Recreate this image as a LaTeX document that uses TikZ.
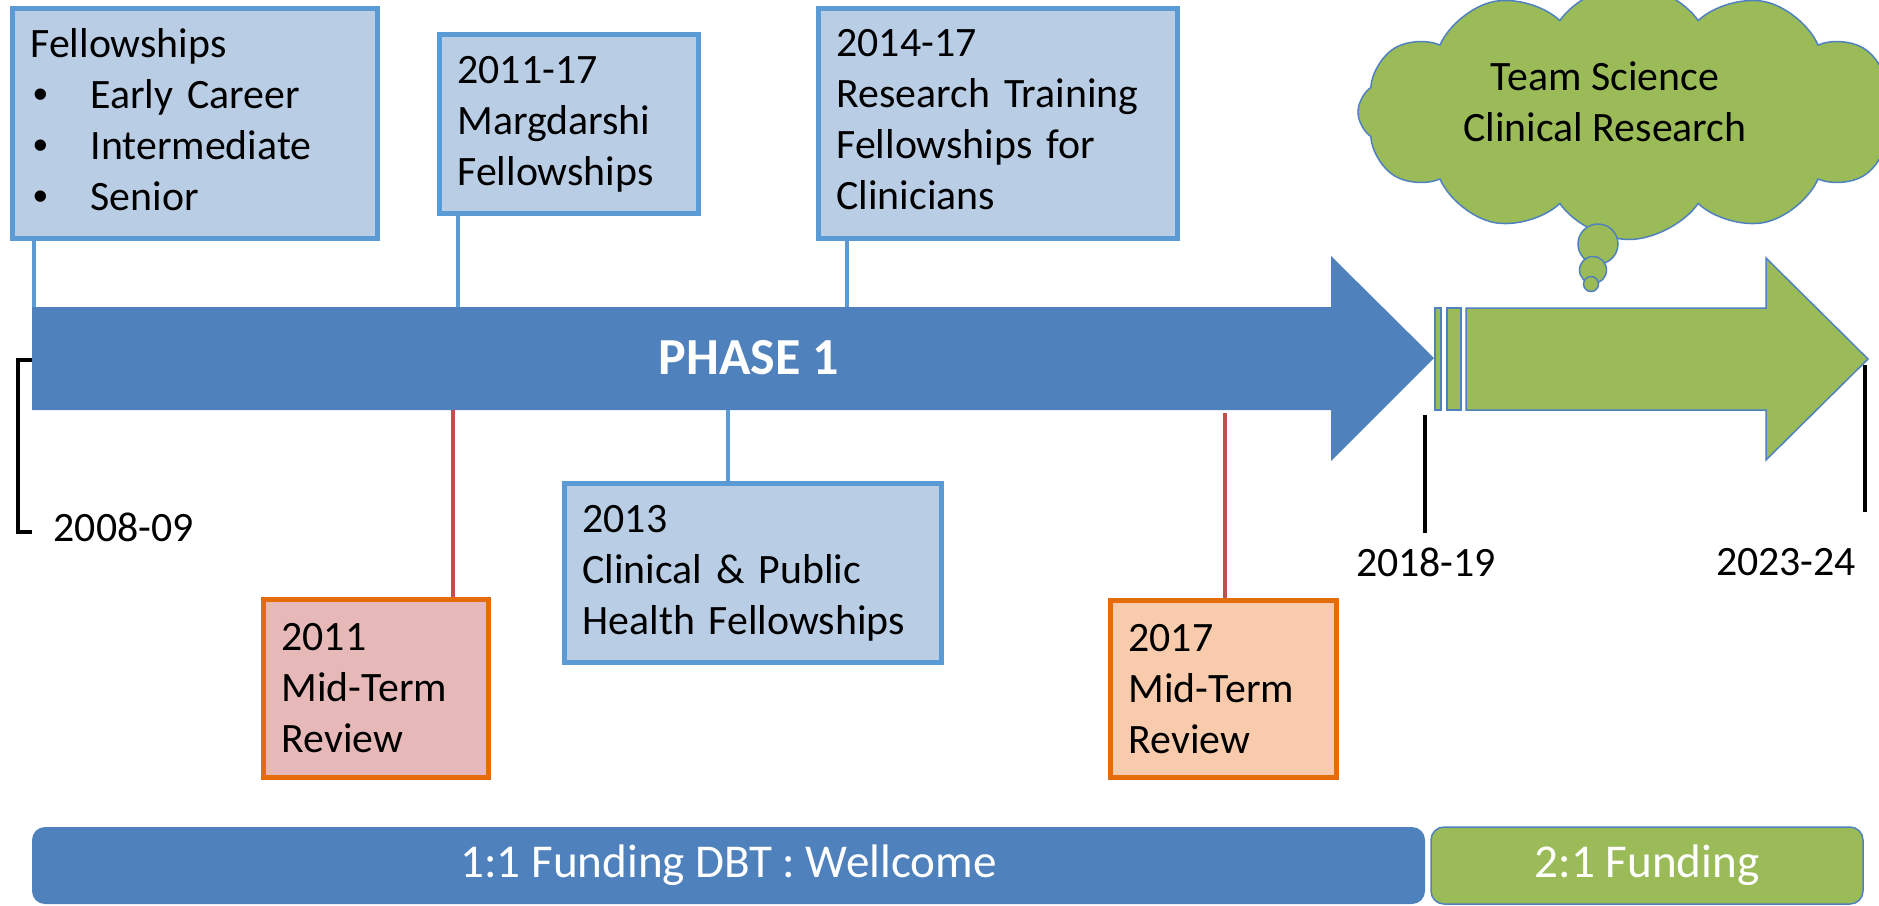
\documentclass[tikz,border=0pt]{standalone}
\usepackage{fontspec}
\setmainfont{Carlito}
\newfontfamily\bulletfont{Liberation Sans}
\usepackage{xcolor}
\usepackage{tikz}
\usetikzlibrary{shapes.symbols}
\definecolor{phaseblue}{HTML}{4F81BD}
\definecolor{boxblue}{HTML}{B9CDE5}
\definecolor{lineblue}{HTML}{5B9BD5}
\definecolor{stemred}{HTML}{C0504D}
\definecolor{revorange}{HTML}{E46C0A}
\definecolor{revpink}{HTML}{E6B9B8}
\definecolor{revpeach}{HTML}{F8CBAD}
\definecolor{leafgreen}{HTML}{9BBB59}
\newcommand{\fellbullet}{\makebox[0.60cm][l]{\hspace{0.03cm}{\bulletfont\textbullet}}}

\begin{document}
\begin{tikzpicture}[
  every node/.style={font=\fontsize{11.9}{14.5}\selectfont},
  infobox/.style={draw=lineblue, fill=boxblue, line width=0.05cm, anchor=north west,
    align=left, inner xsep=0.18cm, inner ysep=0cm},
  reviewbox/.style={infobox, draw=revorange},
  bluestem/.style={lineblue, line width=0.035cm},
  redstem/.style={stemred, line width=0.04cm},
  datetick/.style={black, line width=0.045cm},
  datelabel/.style={inner sep=0cm},
  greenshape/.style={fill=leafgreen, draw=phaseblue, line width=0.015cm},
  fundbar/.style={rounded corners=0.13cm, text=white, inner sep=0cm,
    font=\fontsize{13.4}{16}\selectfont}
]
\fill[white] (0cm,0cm) rectangle (18.79cm,-9.05cm);
\useasboundingbox (0cm,0cm) rectangle (18.79cm,-9.05cm);

% phase 1 arrow
\fill[phaseblue] (0.32cm,-3.07cm) -- (13.31cm,-3.07cm) -- (13.31cm,-2.56cm) -- (14.34cm,-3.58cm)
  -- (13.31cm,-4.61cm) -- (13.31cm,-4.10cm) -- (0.32cm,-4.10cm) -- cycle;
\node[text=white, font=\fontsize{14.8}{17}\selectfont\bfseries] (phase) at (7.49cm,-3.58cm) {PHASE 1};

% next phase arrow
\filldraw[greenshape] (14.35cm,-3.08cm) rectangle (14.41cm,-4.10cm);
\filldraw[greenshape] (14.47cm,-3.08cm) rectangle (14.61cm,-4.10cm);
\filldraw[greenshape] (14.66cm,-3.08cm) -- (17.66cm,-3.08cm) -- (17.66cm,-2.58cm) -- (18.68cm,-3.59cm)
  -- (17.66cm,-4.60cm) -- (17.66cm,-4.10cm) -- (14.66cm,-4.10cm) -- cycle;

% boxes above
\node[infobox, text width=3.29cm, minimum width=3.65cm, minimum height=2.30cm] (fell) at (0.10cm,-0.06cm)
  {Fellowships\\ \fellbullet Early Career\\ \fellbullet Intermediate\\ \fellbullet Senior\vspace{0.07cm}};
\node[infobox, text width=2.23cm, minimum width=2.59cm, minimum height=1.79cm] (marg) at (4.37cm,-0.32cm)
  {2011-17\\ Margdarshi\\ Fellowships};
\node[infobox, text width=3.23cm, minimum width=3.59cm, minimum height=2.30cm] (rtf) at (8.16cm,-0.06cm)
  {2014-17\\ Research Training\\ Fellowships for\\ Clinicians\vspace{0.07cm}};

% boxes below
\node[reviewbox, fill=revpink, text width=1.89cm, minimum width=2.25cm, minimum height=1.78cm] (rev1) at (2.61cm,-5.97cm)
  {2011\\ Mid-Term\\ Review};
\node[infobox, text width=3.41cm, minimum width=3.77cm, minimum height=1.79cm] (chp) at (5.62cm,-4.81cm)
  {2013\\ Clinical \& Public\\ Health Fellowships};
\node[reviewbox, fill=revpeach, text width=1.90cm, minimum width=2.26cm, minimum height=1.77cm] (rev2) at (11.08cm,-5.98cm)
  {2017\\ Mid-Term\\ Review};

% stems
\coordinate (s1) at (0.34cm,-3.07cm);
\coordinate (s2) at (4.58cm,-3.07cm);
\coordinate (s3) at (8.47cm,-3.07cm);
\coordinate (s4) at (4.53cm,-4.10cm);
\coordinate (s5) at (7.28cm,-4.10cm);
\coordinate (s6) at (12.25cm,-4.13cm);
\draw[bluestem] (s1) -- (s1 |- fell.south);
\draw[bluestem] (s2) -- (s2 |- marg.south);
\draw[bluestem] (s3) -- (s3 |- rtf.south);
\draw[redstem] (s4) -- (s4 |- rev1.north);
\draw[bluestem] (s5) -- (s5 |- chp.north);
\draw[redstem] (s6) -- (s6 |- rev2.north);

% dates
\node[datelabel, anchor=west] (d1) at (0.53cm,-5.27cm) {2008-09};
\node[datelabel] (d2) at (14.26cm,-5.62cm) {2018-19};
\node[datelabel] (d3) at (17.86cm,-5.62cm) {2023-24};
\coordinate (b1) at (0.32cm,-3.60cm);
\draw[datetick] (b1) -- ++(-0.14cm,0cm) |- ([xshift=-0.21cm,yshift=-0.05cm]d1.west);
\coordinate (t1) at (14.25cm,-4.15cm);
\coordinate (t2) at (14.25cm,-5.33cm);
\coordinate (t3) at (18.65cm,-3.65cm);
\coordinate (t4) at (18.65cm,-5.12cm);
\draw[datetick] (t1) -- (t2);
\draw[datetick] (t3) -- (t4);

% thought cloud
\begin{scope}
\clip (0cm,0cm) rectangle (18.79cm,-9.05cm);
\node[cloud, cloud puffs=12, cloud puff arc=110, aspect=2.2, greenshape, minimum width=5.42cm, minimum height=2.55cm] (cloud) at (16.29cm,-1.12cm) {};
\end{scope}
\node[align=center] (idea) at (16.05cm,-1.02cm) {Team Science\\ Clinical Research};
\node[circle, greenshape, minimum size=0.40cm, inner sep=0cm] (p1) at (15.98cm,-2.44cm) {};
\node[circle, greenshape, minimum size=0.27cm, inner sep=0cm] (p2) at (15.93cm,-2.70cm) {};
\node[circle, greenshape, minimum size=0.15cm, inner sep=0cm] (p3) at (15.91cm,-2.84cm) {};

% funding bars
\node[fundbar, fill=phaseblue, minimum width=13.93cm, minimum height=0.77cm] (fund1) at (7.285cm,-8.655cm)
  {1:1 Funding DBT : Wellcome};
\node[fundbar, greenshape, minimum width=4.32cm, minimum height=0.77cm] (fund2) at (16.47cm,-8.655cm)
  {2:1 Funding};
\end{tikzpicture}
\end{document}
